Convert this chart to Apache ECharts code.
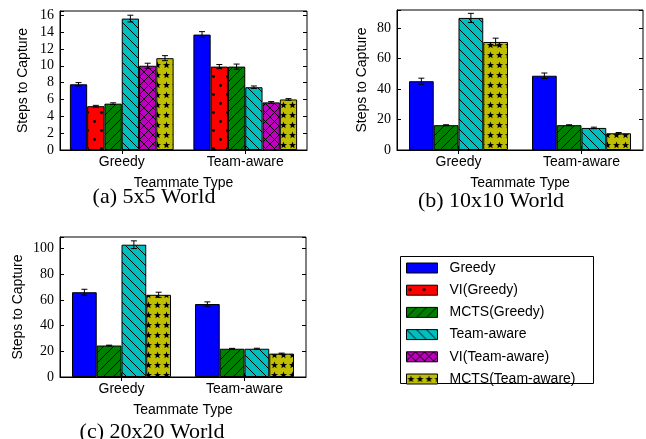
<!DOCTYPE html>
<html>
<head>
<meta charset="utf-8">
<script src="https://cdn.jsdelivr.net/npm/echarts@6/dist/echarts.min.js"></script>
<style>html,body{margin:0;padding:0;background:#fff;}#c{width:646px;height:439px;}</style>
</head>
<body>
<div id="c"></div>
<script>
// ---- data ----
const categories = ['Greedy', 'Team-aware'];
const seriesNames = ['Greedy', 'VI(Greedy)', 'MCTS(Greedy)', 'Team-aware', 'VI(Team-aware)', 'MCTS(Team-aware)'];

// (a) 5x5 World
const a_greedy = [7.8, 13.7];       const a_greedy_err = [0.2, 0.35];
const a_viGreedy = [5.2, 9.9];      const a_viGreedy_err = [0.1, 0.25];
const a_mctsGreedy = [5.5, 9.9];    const a_mctsGreedy_err = [0.1, 0.3];
const a_team = [15.6, 7.45];        const a_team_err = [0.4, 0.15];
const a_viTeam = [10.0, 5.65];      const a_viTeam_err = [0.3, 0.1];
const a_mctsTeam = [10.9, 6.0];     const a_mctsTeam_err = [0.3, 0.1];

// (b) 10x10 World
const b_greedy = [45.2, 48.8];      const b_greedy_err = [2.0, 1.8];
const b_mctsGreedy = [16.3, 16.3];  const b_mctsGreedy_err = [0.3, 0.3];
const b_team = [86.8, 14.5];        const b_team_err = [3.0, 0.5];
const b_mctsTeam = [71.0, 11.0];    const b_mctsTeam_err = [2.5, 0.5];

// (c) 20x20 World
const c_greedy = [66.0, 56.8];      const c_greedy_err = [2.3, 1.7];
const c_mctsGreedy = [24.5, 22.0];  const c_mctsGreedy_err = [0.3, 0.3];
const c_team = [103.0, 22.0];       const c_team_err = [3.0, 0.4];
const c_mctsTeam = [64.0, 18.2];    const c_mctsTeam_err = [2.0, 0.4];

const a_ticks = {min: 0, max: 16.5, interval: 2};
const b_ticks = {min: 0, max: 92, interval: 20};
const c_ticks = {min: 0, max: 109, interval: 20};

const captions = ['(a) 5x5 World', '(b) 10x10 World', '(c) 20x20 World'];

// ---- patterns ----
function tile(w, h, bg, draw) {
  const cv = document.createElement('canvas');
  cv.width = w; cv.height = h;
  const ctx = cv.getContext('2d');
  ctx.fillStyle = bg; ctx.fillRect(0, 0, w, h);
  ctx.strokeStyle = '#000'; ctx.fillStyle = '#000'; ctx.lineWidth = 1;
  draw(ctx, w, h);
  return {image: cv, repeat: 'repeat'};
}
function fwd(ctx, s) { ctx.beginPath(); ctx.moveTo(0, s); ctx.lineTo(s, 0); ctx.moveTo(-1, 1); ctx.lineTo(1, -1); ctx.moveTo(s - 1, s + 1); ctx.lineTo(s + 1, s - 1); ctx.stroke(); }
function back(ctx, s) { ctx.beginPath(); ctx.moveTo(0, 0); ctx.lineTo(s, s); ctx.moveTo(-1, s - 1); ctx.lineTo(1, s + 1); ctx.moveTo(s - 1, -1); ctx.lineTo(s + 1, 1); ctx.stroke(); }
function star(ctx, cx, cy, r) {
  ctx.beginPath();
  for (let k = 0; k < 10; k++) {
    const rr = k % 2 === 0 ? r : r * 0.42;
    const ang = -Math.PI / 2 + k * Math.PI / 5;
    const x = cx + rr * Math.cos(ang), y = cy + rr * Math.sin(ang);
    if (k === 0) ctx.moveTo(x, y); else ctx.lineTo(x, y);
  }
  ctx.closePath(); ctx.fill();
}
const fills = {
  'Greedy': '#0000ff',
  'VI(Greedy)': tile(14, 18, '#ff0000', (ctx) => { ctx.beginPath(); ctx.arc(3.5, 4.5, 1.4, 0, 7); ctx.fill(); ctx.beginPath(); ctx.arc(10.5, 13.5, 1.4, 0, 7); ctx.fill(); }),
  'MCTS(Greedy)': tile(10, 10, '#008000', (ctx, w) => fwd(ctx, w)),
  'Team-aware': tile(10, 10, '#00bfbf', (ctx, w) => back(ctx, w)),
  'VI(Team-aware)': tile(9, 9, '#bf00bf', (ctx, w) => { fwd(ctx, w); back(ctx, w); }),
  'MCTS(Team-aware)': tile(9, 10, '#bfbf00', (ctx) => star(ctx, 4.5, 5.3, 3.7))
};

// ---- panels ----
const panels = [
  {grid: {left: 60, top: 11, width: 247, height: 139}, ticks: a_ticks, gap: '16%', nameGap: 30,
   series: [['Greedy', a_greedy, a_greedy_err], ['VI(Greedy)', a_viGreedy, a_viGreedy_err], ['MCTS(Greedy)', a_mctsGreedy, a_mctsGreedy_err],
            ['Team-aware', a_team, a_team_err], ['VI(Team-aware)', a_viTeam, a_viTeam_err], ['MCTS(Team-aware)', a_mctsTeam, a_mctsTeam_err]]},
  {grid: {left: 397, top: 10, width: 246, height: 140}, ticks: b_ticks, gap: '19.5%', nameGap: 28,
   series: [['Greedy', b_greedy, b_greedy_err], ['MCTS(Greedy)', b_mctsGreedy, b_mctsGreedy_err],
            ['Team-aware', b_team, b_team_err], ['MCTS(Team-aware)', b_mctsTeam, b_mctsTeam_err]]},
  {grid: {left: 60, top: 237, width: 246, height: 140}, ticks: c_ticks, gap: '19.5%', nameGap: 35,
   series: [['Greedy', c_greedy, c_greedy_err], ['MCTS(Greedy)', c_mctsGreedy, c_mctsGreedy_err],
            ['Team-aware', c_team, c_team_err], ['MCTS(Team-aware)', c_mctsTeam, c_mctsTeam_err]]}
];
const captionPos = [[154, 197], [491, 201], [152, 432]];

const sans = '"Liberation Sans", Arial, sans-serif';
const serif = '"Liberation Serif", "Times New Roman", serif';

const grids = [], xAxes = [], yAxes = [], series = [];
panels.forEach((p, gi) => {
  grids.push(Object.assign({show: true, borderColor: '#000', borderWidth: 1, backgroundColor: '#fff'}, p.grid));
  const t = p.ticks;
  xAxes.push({type: 'category', gridIndex: gi, data: categories, position: 'bottom',
    axisLine: {lineStyle: {color: '#000', width: 1}},
    axisTick: {show: true, inside: true, alignWithLabel: true, length: 4, lineStyle: {color: '#000'}},
    axisLabel: {color: '#000', fontFamily: sans, fontSize: 14, margin: 5},
    name: 'Teammate Type', nameLocation: 'middle', nameGap: 26,
    nameTextStyle: {color: '#000', fontFamily: sans, fontSize: 14}});
  xAxes.push({type: 'category', gridIndex: gi, data: categories, position: 'top',
    axisLine: {show: false}, axisLabel: {show: false},
    axisTick: {show: true, inside: true, alignWithLabel: true, length: 4, lineStyle: {color: '#000'}}});
  const fmt = v => (Math.abs(v / t.interval - Math.round(v / t.interval)) < 1e-6 ? String(v) : '');
  yAxes.push({type: 'value', gridIndex: gi, position: 'left', min: t.min, max: t.max, interval: t.interval,
    splitLine: {show: false},
    axisLine: {show: true, lineStyle: {color: '#000', width: 1}},
    axisTick: {show: true, inside: true, length: 4, lineStyle: {color: '#000'}},
    axisLabel: {color: '#000', fontFamily: serif, fontSize: 14, margin: 6, formatter: fmt, showMaxLabel: true},
    name: 'Steps to Capture', nameLocation: 'middle', nameGap: p.nameGap, nameRotate: 90,
    nameTextStyle: {color: '#000', fontFamily: sans, fontSize: 14}});
  yAxes.push({type: 'value', gridIndex: gi, position: 'right', min: t.min, max: t.max, interval: t.interval,
    splitLine: {show: false}, axisLine: {show: false}, axisLabel: {show: false},
    axisTick: {show: true, inside: true, length: 4, lineStyle: {color: '#000'}}});
  const n = p.series.length;
  const gapFrac = parseFloat(p.gap) / 100;
  p.series.forEach(([name, vals, errs], i) => {
    series.push({type: 'bar', name: name, xAxisIndex: gi * 2, yAxisIndex: gi * 2,
      data: vals, barGap: '0%', barCategoryGap: p.gap,
      itemStyle: {color: fills[name], borderColor: '#000', borderWidth: 1},
      emphasis: {disabled: true}, animation: false});
    series.push({type: 'custom', xAxisIndex: gi * 2, yAxisIndex: gi * 2, z: 10, animation: false,
      data: vals.map((v, k) => [k, v, errs[k]]),
      renderItem: function (params, api) {
        const cat = api.value(0), v = api.value(1), e = api.value(2);
        const c = api.coord([cat, v]);
        const band = api.size([1, 0])[0];
        const bw = band * (1 - gapFrac) / n;
        const x = c[0] + (i - (n - 1) / 2) * bw;
        const yt = api.coord([cat, v + e])[1], yb = api.coord([cat, v - e])[1];
        const cap = 3;
        const st = {stroke: '#000', lineWidth: 1};
        return {type: 'group', children: [
          {type: 'line', shape: {x1: x, y1: yt, x2: x, y2: yb}, style: st},
          {type: 'line', shape: {x1: x - cap, y1: yt, x2: x + cap, y2: yt}, style: st},
          {type: 'line', shape: {x1: x - cap, y1: yb, x2: x + cap, y2: yb}, style: st}
        ]};
      }});
  });
});

const graphics = [{type: 'rect', shape: {x: 400.5, y: 256.5, width: 193, height: 127}, style: {fill: '#fff', stroke: '#000', lineWidth: 1}, z: 0}];
captions.forEach((txt, k) => {
  graphics.push({type: 'text', x: captionPos[k][0], y: captionPos[k][1], z: 10,
    style: {text: txt, font: '22px ' + serif, fill: '#000', align: 'center', verticalAlign: 'middle', textAlign: 'center', textVerticalAlign: 'middle'}});
});

const chart = echarts.init(document.getElementById('c'), null, {renderer: 'canvas'});
chart.setOption({
  animation: false,
  backgroundColor: '#fff',
  grid: grids, xAxis: xAxes, yAxis: yAxes, series: series,
  legend: {data: seriesNames, orient: 'vertical', left: 406, top: 261, itemWidth: 31, itemHeight: 10, itemGap: 8.2,
    selectedMode: false, icon: 'rect', padding: 0,
    textStyle: {color: '#000', fontFamily: sans, fontSize: 14, lineHeight: 14, padding: [0, 0, 0, 7]},
    itemStyle: {borderColor: '#000', borderWidth: 1}},
  graphic: graphics
});
</script>
</body>
</html>
